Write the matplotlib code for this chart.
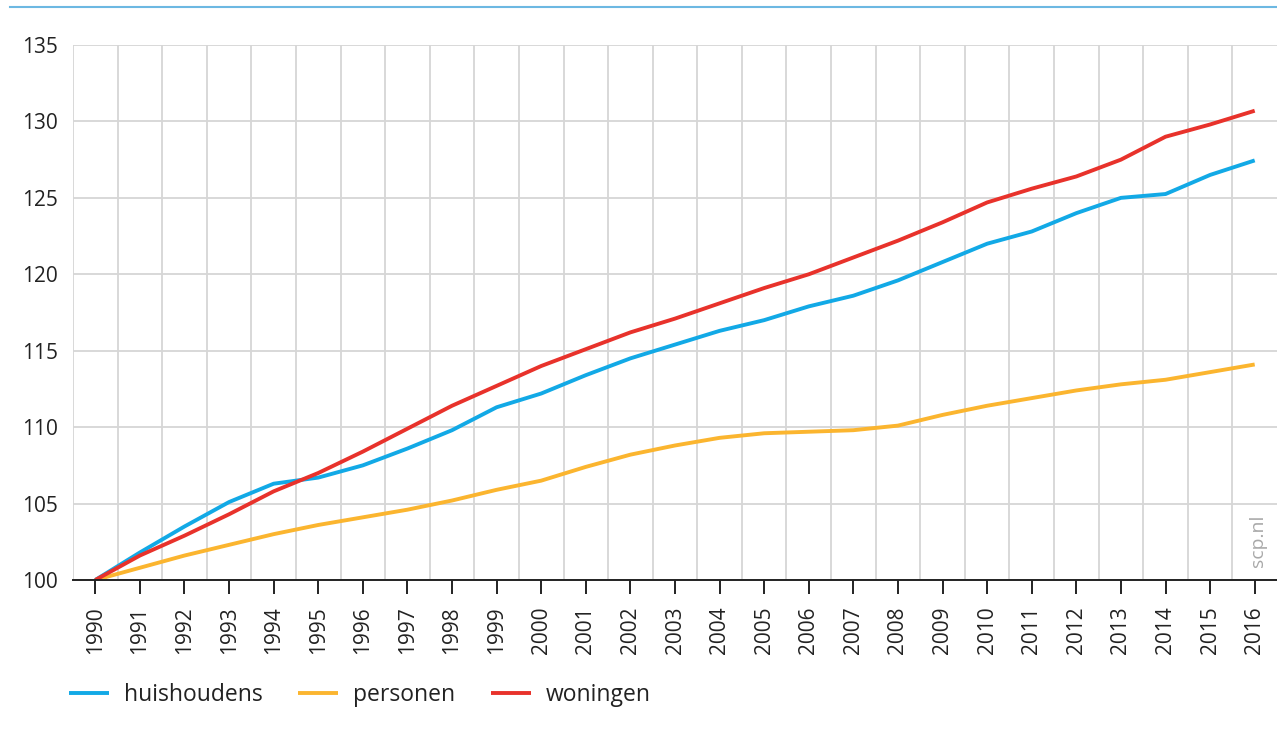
import matplotlib
matplotlib.use("Agg")
from matplotlib import pyplot as plt
from matplotlib.lines import Line2D
import numpy as np

plt.rcParams['font.family'] = ['Open Sans', 'DejaVu Sans']

years = list(range(1990, 2017))
huishoudens = [100, 101.8, 103.5, 105.1, 106.3, 106.7, 107.5, 108.6, 109.8, 111.3,
               112.2, 113.4, 114.5, 115.4, 116.3, 117.0, 117.9, 118.6, 119.6, 120.8,
               122.0, 122.8, 124.0, 125.0, 125.25, 126.5, 127.45]
personen = [100, 100.8, 101.6, 102.3, 103.0, 103.6, 104.1, 104.6, 105.2, 105.9,
            106.5, 107.4, 108.2, 108.8, 109.3, 109.6, 109.7, 109.8, 110.1, 110.8,
            111.4, 111.9, 112.4, 112.8, 113.1, 113.6, 114.1]
woningen = [100, 101.6, 102.9, 104.3, 105.8, 107.0, 108.4, 109.9, 111.4, 112.7,
            114.0, 115.1, 116.2, 117.1, 118.1, 119.1, 120.0, 121.1, 122.2, 123.4,
            124.7, 125.6, 126.4, 127.5, 129.0, 129.8, 130.7]

series = [('huishoudens', huishoudens, '#12a9e6'),
          ('personen', personen, '#fbb52f'),
          ('woningen', woningen, '#e8322b')]

fig = plt.figure(figsize=(12.77, 7.36), dpi=100)
ax = fig.add_axes((73/1277, 1-580/736, 1-73/1277, (580-45)/736))

for name, vals, col in series:
    ax.plot(years, vals, color=col, lw=2.8, label=name, solid_capstyle='butt')

ax.set_xlim(1989.5, 2016.5)
ax.set_ylim(100, 135)
ax.set_xticks(years)
ax.set_xticks(np.arange(1989.5, 2016, 1), minor=True)
ax.set_yticks(range(100, 136, 5))
ax.grid(True, which='minor', axis='x', color='#d6d6d6', lw=1.3)
ax.grid(True, which='major', axis='y', color='#d6d6d6', lw=1.3)
ax.set_axisbelow(True)
for s in ['top', 'right', 'left']:
    ax.spines[s].set_visible(False)
ax.spines['bottom'].set_color('#222222')
ax.spines['bottom'].set_linewidth(1.4)
ax.spines['bottom'].set_zorder(5)

ax.tick_params(axis='x', which='major', length=10, width=1.4, color='#222222',
               labelsize=15, labelrotation=90, pad=9, labelcolor='#222222')
ax.tick_params(axis='x', which='minor', length=0)
ax.tick_params(axis='y', length=0, labelsize=15, pad=11, labelcolor='#222222')

fig.text(1258/1277, 1-541/736, 'scp.nl', rotation=90, color='#a8a8a8',
         fontsize=14, ha='center', va='center')

fig.add_artist(Line2D([10/1277, 1], [1-7/736, 1-7/736], color='#6cb8e2', lw=1.5))

fig.legend(loc='center left', bbox_to_anchor=(62/1277, 1-695/736), ncol=3,
           frameon=False, fontsize=16.5, handlelength=1.75, handletextpad=0.65,
           columnspacing=1.55, labelcolor='#222222', borderaxespad=0, borderpad=0.3)

fig.savefig('out.png', dpi=100)
